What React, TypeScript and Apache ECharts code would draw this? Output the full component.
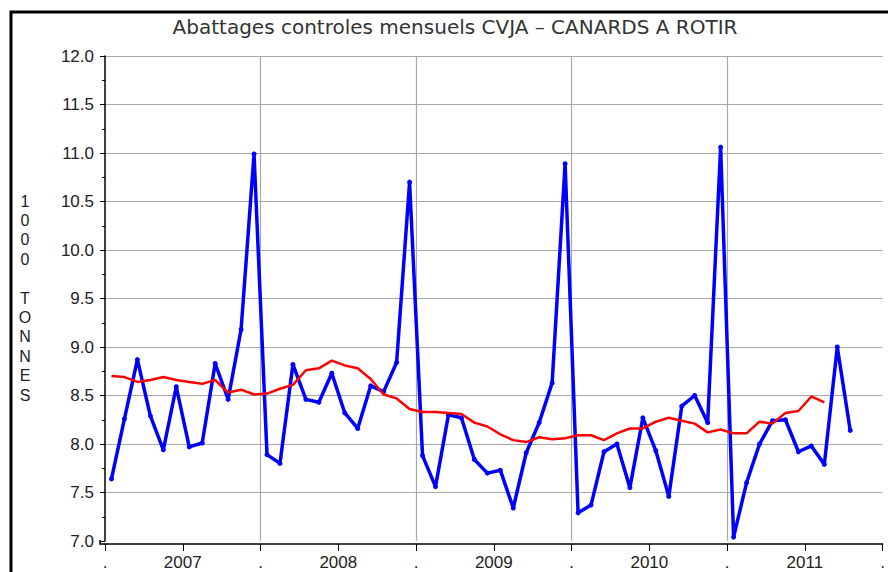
import React, { useEffect, useRef } from "react";
import * as echarts from "echarts";

const TITLE = "Abattages controles mensuels CVJA – CANARDS A ROTIR";
const Y_NAME = "1\n0\n0\n0\n\nT\nO\nN\nN\nE\nS";
const YEARS = ["2007", "2008", "2009", "2010", "2011"];

// monthly values from Jan 2007
const monthly = [
  7.64, 8.26, 8.87, 8.29, 7.94, 8.59, 7.97, 8.01, 8.83, 8.46, 9.18, 10.99,
  7.89, 7.80, 8.82, 8.46, 8.43, 8.73, 8.32, 8.16, 8.60, 8.54, 8.84, 10.70,
  7.88, 7.56, 8.30, 8.27, 7.84, 7.70, 7.73, 7.34, 7.91, 8.22, 8.63, 10.89,
  7.29, 7.37, 7.92, 8.00, 7.55, 8.27, 7.93, 7.46, 8.39, 8.50, 8.22, 11.06,
  7.04, 7.60, 8.00, 8.24, 8.25, 7.92, 7.98, 7.79, 9.00, 8.14,
];

const trend = [
  8.70, 8.69, 8.64, 8.66, 8.69, 8.66, 8.64, 8.62, 8.66, 8.53, 8.56, 8.51,
  8.52, 8.57, 8.61, 8.76, 8.78, 8.86, 8.81, 8.78, 8.67, 8.51, 8.47, 8.36,
  8.33, 8.33, 8.32, 8.31, 8.22, 8.18, 8.10, 8.04, 8.02, 8.07, 8.05, 8.06,
  8.09, 8.09, 8.04, 8.11, 8.16, 8.16, 8.23, 8.27, 8.24, 8.21, 8.12, 8.15,
  8.11, 8.11, 8.23, 8.21, 8.32, 8.34, 8.49, 8.43,
];

const FONT = "Liberation Sans";

export default function App() {
  const ref = useRef<HTMLDivElement>(null);
  useEffect(() => {
    if (!ref.current) return;
    const chart = echarts.init(ref.current, null, { renderer: "svg" });
    const toPts = (arr: number[]) => arr.map((v, i) => [i + 0.5, v]);
    chart.setOption({
      animation: false,
      backgroundColor: "#fff",
      grid: { left: 105, right: 0, top: 56, bottom: 31, containLabel: false },
      xAxis: [
        {
          type: "value",
          position: "bottom",
          min: 0,
          max: 60,
          interval: 6,
          offset: 3,
          axisLine: { show: true, lineStyle: { color: "#000", width: 1.5 } },
          axisTick: { show: true, length: 7, lineStyle: { color: "#000", width: 1 } },
          axisLabel: {
            margin: 10,
            fontFamily: FONT,
            fontSize: 17,
            color: "#222",
            showMinLabel: true,
            showMaxLabel: true,
            formatter: (v: number) => {
              if (v % 12 === 0) return ".";
              const idx = (v - 6) / 12;
              return YEARS[idx] ?? "";
            },
          },
          splitLine: { show: false },
        },
        {
          type: "value",
          position: "top",
          min: 0,
          max: 60,
          interval: 12,
          axisLine: { show: false },
          axisTick: { show: false },
          axisLabel: { show: false },
          splitLine: {
            show: true,
            showMinLine: false,
            showMaxLine: false,
            lineStyle: { color: "#a8a8a8", width: 1.2 },
          },
        },
      ],
      yAxis: {
        type: "value",
        min: 7,
        max: 12,
        interval: 0.5,
        offset: 5,
        axisLine: { show: true, lineStyle: { color: "#000", width: 1.5 } },
        axisTick: { show: true, length: 5, lineStyle: { color: "#000" } },
        minorTick: { show: true, splitNumber: 2, length: 3, lineStyle: { color: "#000" } },
        axisLabel: {
          margin: 6,
          fontFamily: FONT,
          fontSize: 17,
          color: "#222",
          formatter: (v: number) => v.toFixed(1),
        },
        splitLine: {
          show: true,
          showMinLine: false,
          showMaxLine: true,
          lineStyle: { color: "#a8a8a8", width: 1.2 },
        },
      },
      series: [
        {
          type: "line",
          data: toPts(monthly),
          symbol: "circle",
          symbolSize: 5,
          showSymbol: true,
          itemStyle: { color: "#0000ff" },
          lineStyle: { color: "#0000ff", width: 3.5 },
          z: 3,
        },
        {
          type: "line",
          data: toPts(trend),
          showSymbol: false,
          symbol: "none",
          lineStyle: { color: "#ff0000", width: 2.5 },
          z: 4,
        },
      ],
      graphic: [
        {
          type: "rect",
          shape: { x: 11, y: 12, width: 1000, height: 1000 },
          style: { fill: "none", stroke: "#000", lineWidth: 3 },
          silent: true,
          z: 0,
        },
        {
          type: "polyline",
          shape: { points: [[100, 540], [100, 544], [105, 544]] },
          style: { stroke: "#000", lineWidth: 1.5, fill: "none" },
          silent: true,
        },
        {
          type: "text",
          x: 455,
          y: 27,
          style: {
            text: TITLE,
            fontFamily: "DejaVu Sans",
            fontSize: 20,
            fill: "#333",
            align: "center",
            verticalAlign: "middle",
          },
        },
        {
          type: "text",
          x: 25,
          y: 298,
          style: {
            text: Y_NAME,
            fontFamily: FONT,
            fontSize: 16,
            lineHeight: 19.4,
            fill: "#222",
            align: "center",
            verticalAlign: "middle",
          },
        },
      ],
    });
    return () => chart.dispose();
  }, []);
  return (
    <div
      ref={ref}
      style={{ position: "fixed", left: 0, top: 0, width: 888, height: 572 }}
    />
  );
}
